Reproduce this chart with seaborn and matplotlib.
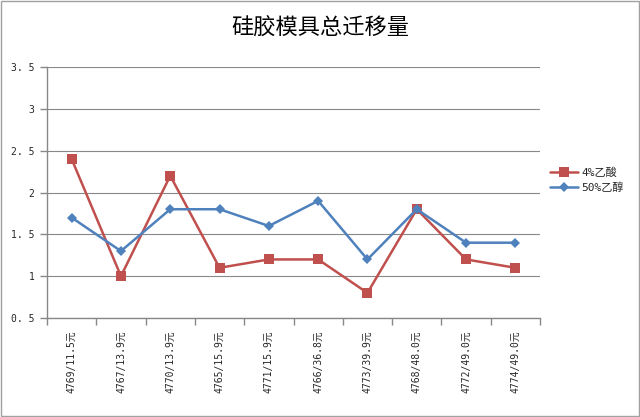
import matplotlib
matplotlib.use("Agg")
import matplotlib.pyplot as plt
import seaborn as sns
import pandas as pd
import numpy as np
from matplotlib.patches import Rectangle

categories = ["4769/11.5元", "4767/13.9元", "4770/13.9元", "4765/15.9元", "4771/15.9元",
              "4766/36.8元", "4773/39.9元", "4768/48.0元", "4772/49.0元", "4774/49.0元"]
acid_4 = [2.4, 1.0, 2.2, 1.1, 1.2, 1.2, 0.8, 1.8, 1.2, 1.1]
ethanol_50 = [1.7, 1.3, 1.8, 1.8, 1.6, 1.9, 1.2, 1.8, 1.4, 1.4]
series_names = ["4%乙酸", "50%乙醇"]
title = "硅胶模具总迁移量"
yticks = [0.5, 1, 1.5, 2, 2.5, 3, 3.5]

sns.set_theme(style="white")
plt.rcParams['font.family'] = ['DejaVu Sans Mono', 'Noto Sans CJK SC']

rows = []
for i, c in enumerate(categories):
    rows.append({"pos": i, "cat": c, "series": series_names[0], "value": acid_4[i]})
for i, c in enumerate(categories):
    rows.append({"pos": i, "cat": c, "series": series_names[1], "value": ethanol_50[i]})
df = pd.DataFrame(rows)

fig = plt.figure(figsize=(6.4, 4.17), dpi=100)
ax = fig.add_axes([47/640, 1-318/417, (540-47)/640, (318-67)/417])

palette = {series_names[0]: "#C0504D", series_names[1]: "#4F81BD"}
markers = {series_names[0]: "s", series_names[1]: "D"}
sizes_m = {series_names[0]: 7.5, series_names[1]: 5.5}
for name in series_names:
    sub = df[df["series"] == name]
    sns.lineplot(data=sub, x="pos", y="value", ax=ax, color=palette[name],
                 marker=markers[name], markersize=sizes_m[name], markeredgewidth=0,
                 linewidth=1.8, label=name, legend=False)

ax.set_xlim(-0.5, len(categories) - 0.5)
ax.set_ylim(0.5, 3.5)
ax.set_yticks(yticks)
ax.set_yticklabels([("%g" % v).replace(".", ". ") for v in yticks], fontsize=7)
ax.set_xticks(range(len(categories)))
ax.set_xticklabels(categories, rotation=90, fontsize=7)
ax.set_xticks(np.arange(-0.5, len(categories), 1), minor=True)
ax.tick_params(axis="x", which="major", length=0, pad=9)
ax.tick_params(axis="x", which="minor", length=5, color="#888888", width=1, direction="out", bottom=True)
ax.tick_params(axis="y", length=5, color="#888888", width=1, direction="out", left=True, pad=4)
ax.set_xlabel("")
ax.set_ylabel("")
ax.grid(axis="y", color="#888888", linewidth=0.8)
ax.set_axisbelow(True)
for s in ["top", "right"]:
    ax.spines[s].set_visible(False)
for s in ["left", "bottom"]:
    ax.spines[s].set_color("#888888")
    ax.spines[s].set_linewidth(1)

ax.legend(loc="center left", bbox_to_anchor=(1.0, 0.55), frameon=False, fontsize=8,
          handlelength=2.5, handletextpad=0.3, labelspacing=0.4)

fig.text(0.5, 1-28/417, title, ha="center", va="center", fontsize=16,
         family=['Noto Sans CJK SC'], fontweight="medium", color="black")

fig.patches.append(Rectangle((0.001, 0.002), 0.997, 0.996, transform=fig.transFigure,
                             fill=False, edgecolor="#a0a0a0", linewidth=1.0))

fig.savefig("out.png", dpi=100)
